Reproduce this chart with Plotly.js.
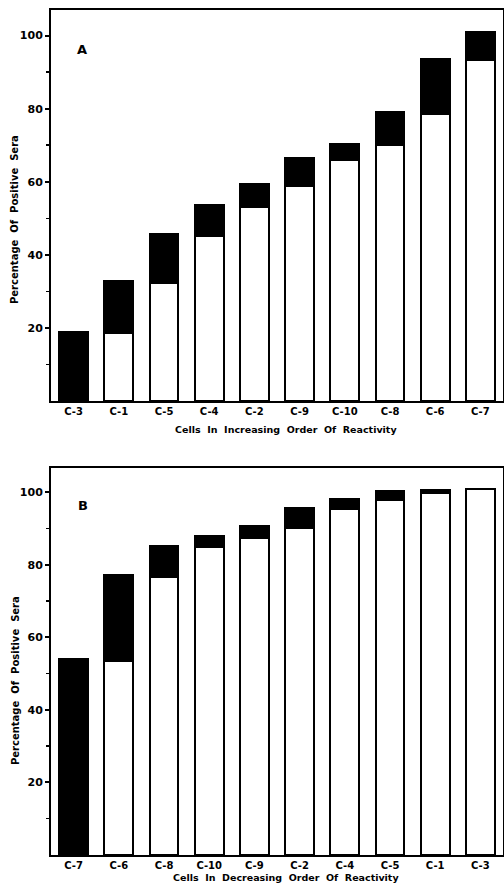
<!DOCTYPE html>
<html>
<head>
<meta charset="utf-8">
<script src="https://cdn.plot.ly/plotly-3.0.1.min.js"></script>
<style>html,body{margin:0;padding:0;background:#fff;}#chart{width:504px;height:889px;}</style>
</head>
<body>
<div id="chart"></div>
<script>
// Panel A: cells in increasing order of reactivity
const cellsA = ["C-3","C-1","C-5","C-4","C-2","C-9","C-10","C-8","C-6","C-7"];
const whiteA = [0, 18.5, 32.3, 45.1, 53.2, 58.9, 65.9, 70.0, 78.5, 93.3];
const blackA = [18.9, 14.3, 13.3, 8.6, 6.2, 7.5, 4.3, 9.1, 15.2, 7.6];

// Panel B: cells in decreasing order of reactivity
const cellsB = ["C-7","C-6","C-8","C-10","C-9","C-2","C-4","C-5","C-1","C-3"];
const whiteB = [0, 53.4, 76.7, 84.9, 87.5, 90.1, 95.4, 97.8, 99.9, 100.8];
const blackB = [53.9, 23.7, 8.6, 3.1, 3.1, 5.7, 2.8, 2.5, 0.7, 0];

const yTicks = [20, 40, 60, 80, 100];
const yMinor = [10, 30, 50, 70, 90];

const FONT = "DejaVu Sans";
const bw = 0.64;
const outline = {color: "#000", width: 2};

function bars(x, y, color, xa, ya) {
  return {type: "bar", x: x, y: y, xaxis: xa, yaxis: ya, width: bw,
    marker: {color: color, line: outline}, showlegend: false, hoverinfo: "skip"};
}

const data = [
  bars(cellsA, whiteA, "#fff", "x", "y"),
  bars(cellsA, blackA, "#000", "x", "y"),
  bars(cellsB, whiteB, "#fff", "x2", "y2"),
  bars(cellsB, blackB, "#000", "x2", "y2")
];

function xax(anchor) {
  return {anchor: anchor, type: "category", range: [-0.5, 9.5], showline: true, mirror: true,
    linecolor: "#000", linewidth: 2, ticks: "", showgrid: false, zeroline: false,
    tickfont: {family: FONT, size: 10, color: "#000", weight: "bold"}, fixedrange: true};
}
function yax(anchor, domain, top) {
  return {anchor: anchor, domain: domain, range: [0, top], showline: true, mirror: true,
    linecolor: "#000", linewidth: 2, ticks: "outside", ticklen: 4, tickwidth: 2, tickcolor: "#000",
    tickvals: yTicks, ticktext: yTicks.map(String),
    minor: {tickvals: yMinor, ticks: "outside", ticklen: 3, tickwidth: 1.5, tickcolor: "#000", showgrid: false},
    showgrid: false, zeroline: false,
    tickfont: {family: FONT, size: 11, color: "#000", weight: "bold"}, fixedrange: true};
}

function ann(text, x, y, size, angle) {
  return {text: text, xref: "paper", yref: "paper", x: x, y: y, showarrow: false,
    xanchor: "center", yanchor: "middle", textangle: angle || 0,
    font: {family: FONT, size: size, color: "#000", weight: "bold"}};
}

const layout = {
  width: 504, height: 889,
  margin: {l: 51, r: 1, t: 10, b: 34},
  paper_bgcolor: "#fff", plot_bgcolor: "#fff",
  barmode: "stack", bargap: 0.36,
  xaxis: xax("y"),
  yaxis: yax("x", [0.5373, 1], 107),
  xaxis2: xax("y2"),
  yaxis2: yax("x2", [0, 0.458], 106.7),
  annotations: [
    ann("A", 0.0686, 0.9527, 13),
    ann("B", 0.0708, 0.4142, 13),
    ann("Percentage  Of  Positive  Sera", -0.0796, 0.7515, 10, -90),
    ann("Percentage  Of  Positive  Sera", -0.0796, 0.2059, 10, -90),
    ann("Cells  In  Increasing  Order  Of  Reactivity", 0.52, 0.5041, 9.5),
    ann("Cells  In  Decreasing  Order  Of  Reactivity", 0.52, -0.0272, 9.5)
  ]
};

Plotly.newPlot("chart", data, layout, {displayModeBar: false, staticPlot: true});
</script>
</body>
</html>
